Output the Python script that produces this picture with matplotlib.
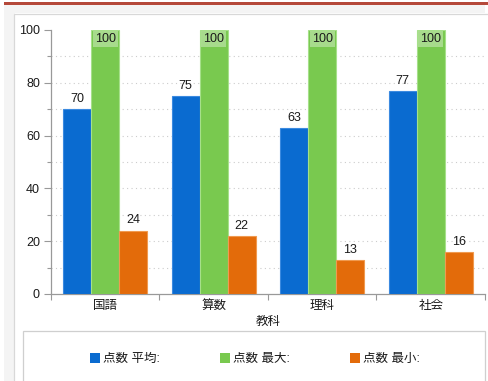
import matplotlib
matplotlib.use("Agg")
import matplotlib.pyplot as plt
from matplotlib.patches import Rectangle, Patch
import numpy as np

plt.rcParams['font.family'] = ['Liberation Sans', 'Noto Sans CJK JP', 'DejaVu Sans']

categories = ["国語", "算数", "理科", "社会"]
series_names = ["点数 平均:", "点数 最大:", "点数 最小:"]
avg_scores = [70, 75, 63, 77]
max_scores = [100, 100, 100, 100]
min_scores = [24, 22, 13, 16]
x_title = "教科"
y_ticks = [0, 20, 40, 60, 80, 100]

colors = ["#0a6bd0", "#79c94f", "#e36b0a"]
edges = ["#3b8ae0", "#a6e08a", "#f09a50"]

W, H = 489, 381
fig = plt.figure(figsize=(W / 100, H / 100), dpi=100)
fig.patch.set_facecolor("white")

def fx(px):
    return px / W

def fy(py):
    return 1 - py / H

# page decorations
fig.patches.append(Rectangle((fx(4), fy(13)), fx(485) - fx(4), fy(5) - fy(13),
                             transform=fig.transFigure, facecolor="#f4f4f4", edgecolor="none", zorder=0))
fig.patches.append(Rectangle((fx(4), 0), fx(15) - fx(4), fy(13),
                             transform=fig.transFigure, facecolor="#f4f4f4", edgecolor="none", zorder=0))
fig.patches.append(Rectangle((fx(14.5), -0.1), fx(490) - fx(14.5), fy(13.5) + 0.1,
                             transform=fig.transFigure, facecolor="white", edgecolor="#d8d8d8", linewidth=0.9, zorder=0))
fig.patches.append(Rectangle((fx(4), fy(5)), fx(488) - fx(4), fy(2.5) - fy(5),
                             transform=fig.transFigure, facecolor="#b5493a", edgecolor="none", zorder=1))
# legend box
fig.patches.append(Rectangle((fx(23), -0.1), fx(484.5) - fx(23), fy(331) + 0.1,
                             transform=fig.transFigure, facecolor="white", edgecolor="#cfcfcf", linewidth=0.9, zorder=1))

ax = fig.add_axes([fx(51), fy(294), fx(485) - fx(51), fy(30) - fy(294)])
ax.set_zorder(3)
ax.set_facecolor("none")

x = np.arange(len(categories))
w = 0.258
series = [avg_scores, max_scores, min_scores]
offsets = [-w, 0, w]
for vals, off, c, e in zip(series, offsets, colors, edges):
    bars = ax.bar(x + off, vals, width=w, color=c, edgecolor=e, linewidth=0.8, zorder=3)
    for xi, v in zip(x + off, vals):
        if v >= 100:
            ax.annotate(str(v), (xi, v), xytext=(0, -2), textcoords="offset points",
                        ha="center", va="top", fontsize=9, color="#1a1a1a", zorder=5,
                        bbox=dict(boxstyle="square,pad=0.15", facecolor="white", alpha=0.35, edgecolor="none"))
        else:
            ax.annotate(str(v), (xi, v), xytext=(0, 3), textcoords="offset points",
                        ha="center", va="bottom", fontsize=9, color="#1a1a1a", zorder=5)

ax.set_xlim(-0.5, len(categories) - 0.5)
ax.set_ylim(0, 100)
ax.set_yticks(y_ticks)
ax.set_yticks(np.arange(10, 100, 20), minor=True)
ax.set_xticks(x)
ax.set_xticklabels(categories, fontsize=9, color="#1a1a1a")
ax.set_xticks(np.arange(-0.5, len(categories), 1.0), minor=True)
ax.tick_params(axis="x", which="major", length=0, pad=4)
ax.tick_params(axis="x", which="minor", length=4, color="#999999", width=0.8)
ax.tick_params(axis="y", which="major", length=5, color="#999999", width=0.8, labelsize=9, labelcolor="#1a1a1a", pad=3)
ax.tick_params(axis="y", which="minor", length=3, color="#999999", width=0.8)
for yv in range(10, 100, 10):
    ax.axhline(yv, color="#cccccc", linestyle=(0, (1, 3)), linewidth=0.8, zorder=1)
for s in ["top", "right"]:
    ax.spines[s].set_visible(False)
for s in ["left", "bottom"]:
    ax.spines[s].set_color("#999999")
    ax.spines[s].set_linewidth(0.9)
ax.set_xlabel(x_title, fontsize=9, color="#1a1a1a", labelpad=3)

handles = [Patch(facecolor=c, edgecolor="none") for c in colors]
leg = fig.legend(handles, series_names, loc="center", bbox_to_anchor=(fx(255), fy(359)),
                 ncol=3, frameon=False, fontsize=9, handlelength=0.8, handleheight=0.8,
                 handletextpad=0.2, columnspacing=4.85, labelcolor="#1a1a1a")
leg.set_zorder(5)

fig.savefig("out.png", dpi=100)
